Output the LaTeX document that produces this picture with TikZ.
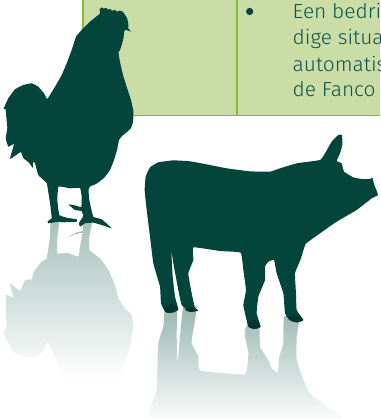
\documentclass[tikz,border=0pt]{standalone}
\usepackage{fontspec}
\setmainfont[FakeStretch=1.03]{Fira Sans Light}
\definecolor{panelfill}{HTML}{CBDDA6}
\definecolor{panelline}{HTML}{8AB82E}
\definecolor{animal}{HTML}{03453B}
\definecolor{hoof}{HTML}{02352D}
\definecolor{inktext}{HTML}{0F5248}
\definecolor{reflA}{HTML}{A5C1BA}
\definecolor{reflB}{HTML}{E0E9E7}
\definecolor{reflC}{HTML}{98B6AF}
\definecolor{reflD}{HTML}{CBDBD6}
\tikzset{
  panelrule/.style={draw=panelline,line width=1.6pt},
  bodytext/.style={anchor=base west,inner sep=0pt,text=inktext,font=\fontsize{20.3}{26}\selectfont},
  silhouette/.style={fill=animal,draw=none},
  hoofshape/.style={fill=hoof,draw=none},
  zoomed/.style={x=0.33333pt,y=-0.33333pt},
}
\begin{document}
\begin{tikzpicture}[x=1pt,y=-1pt]
\useasboundingbox (0,0) rectangle (380,419);
\begin{scope}
\clip (0,0) rectangle (380,419);
% panel
\fill[panelfill] (83,-2) rectangle (382,115.5);
\draw[panelrule] (83,-2) -- (83,115.7) -- (382,115.7);
\draw[panelrule] (237,-2) -- (237,115.7);
\fill[animal] (249.7,11.5) circle (3.6);
\node[bodytext] (t1) at (292.5,19) {Een bedri};
\node[bodytext] (t2) at (292.5,45) {dige situa};
\node[bodytext] (t3) at (292.5,71.5) {automatis};
\node[bodytext] (t4) at (292.5,96.5) {de Fanco};
% rooster reflection
\begin{scope}[yshift=-210pt]
\begin{scope}[zoomed]
\begin{scope}
\clip plot[smooth cycle,tension=.2] coordinates {(152,30)(178,30)(172,80)(172,130)(200,128)(235,140)(240,110)(248,65)(250,30)(275,40)(268,80)(268,120)(300,145)(325,180)(345,225)(355,265)(375,295)(395,315)(400,350)(390,410)(370,470)(355,525)(200,525)(175,460)(143,397)(130,425)(100,443)(70,440)(40,425)(10,370)(20,350)(18,320)(18,255)(40,262)(30,220)(60,243)(75,210)(95,208)(100,188)(105,180)(125,155)(140,145)(150,80)};
\shade[top color=reflA,middle color=reflB,bottom color=white] (0,30) rectangle (410,505);
\end{scope}
\fill[reflA] (205,82) .. controls (220,68) and (235,65) .. (250,63) -- (250,68) .. controls (235,70) and (220,72) .. (205,82) -- cycle;
\end{scope}
\end{scope}
% pig reflection
\begin{scope}[xshift=140pt,yshift=-130pt]
\begin{scope}[zoomed]
\clip plot[smooth cycle,tension=.2] coordinates {(75,530)(110,530)(110,620)(113,700)(120,620)(130,530)(170,530)(160,600)(155,640)(175,680)(180,722)(315,733)(325,670)(315,620)(315,600)(325,580)(358,580)(360,650)(385,690)(395,715)(413,728)(418,680)(430,640)(432,560)(478,560)(470,620)(470,690)(490,750)(510,790)(560,830)(600,870)(40,870)(50,780)(55,640)(70,590)};
\shade[top color=reflC,middle color=reflD,bottom color=white] (0,530) rectangle (720,880);
\end{scope}
\end{scope}
% rooster
\fill[silhouette] plot[smooth cycle,tension=.18] coordinates {
(100,13.5)(99.5,9.5)(101.5,7.5)(104,8.6)(106,7.8)(108,9.6)(110,9)(112,10.7)(115,10)(117,11.6)(120,10.6)(123,12)(125,15)(127,18)(128,22)(128.5,26)(128,28)(131,31.5)(125,29.8)(124,33)(123.5,38)(122,44)(120,50)(118.5,52.5)(120,62)(123,75)(127,88)(131,100)(133.5,112)(133,122)(131,128)(127,132)(122,136)(119,140)(117,150)(114,160)(110,170)(104,178)(96,184)(90,186.5)(88.5,190)(89.3,200)(93.3,216.7)(101.7,219.3)(111.7,228.3)(101.7,225)(93.3,222.7)(85,223.3)(80,226.7)(79,223)(83.3,216)(81.5,211)(75,210)(68.3,204.3)(75,205.5)(81.3,207)(81.7,196.7)(80,188)(70,188.3)(58.5,186.5)(57.3,200)(59.3,215)(66.7,217.7)(76.7,219.3)(76.7,221.7)(63.3,222.3)(58.3,221.7)(48.3,223.3)(47.7,221)(51.7,218.3)(50,203)(47.7,188.3)(46.7,183)(38.3,175)(35,163)(33.3,162)(32.7,168)(29.3,163)(23.3,158)(20.7,152)(10,159)(14,144)(8.3,146.7)(5.7,138.3)(7.3,128)(5.5,109)(3.3,109.3)(8.3,98.3)(15,89.3)(23.3,85)(31.7,83.3)(38.3,86.7)(44,93.3)(47.3,99)(55,86.7)(61.7,75)(66.7,63.3)(71.7,50)(76,36.7)(81.7,30)(90,21.7)};
% pig
\begin{scope}[xshift=140pt,yshift=-130pt]
\begin{scope}[zoomed]
\fill[silhouette] plot[smooth cycle,tension=.2] coordinates {
(14,180)(17,140)(30,112)(55,97)(100,91)(150,94)(200,103)(260,115)(330,124)(390,125)(420,115)(470,100)(540,90)(555,70)(575,35)(595,15)(606,15)(607,45)(600,70)(590,93)(605,100)(612,125)(640,142)(665,147)(690,147)(697,143)(703,165)(714,195)(695,205)(650,240)(590,275)(540,310)(497,342)(483,385)(465,430)(468,490)(470,540)(490,570)(470,577)(448,570)(435,550)(430,490)(410,430)(402,390)(385,395)(375,410)(375,450)(355,500)(350,550)(362,590)(345,597)(325,590)(315,550)(310,525)(318,480)(310,420)(302,368)(240,363)(160,352)(160,390)(145,430)(155,490)(165,535)(175,542)(150,545)(125,525)(115,480)(100,400)(94,362)(98,440)(105,500)(115,540)(90,548)(75,545)(63,520)(60,470)(40,400)(30,320)(20,240)};
\fill[hoofshape] plot[smooth cycle,tension=.5] coordinates {(75,535)(90,520)(112,532)(105,546)(80,548)};
\fill[hoofshape] plot[smooth cycle,tension=.5] coordinates {(135,538)(155,532)(174,541)(150,546)};
\fill[hoofshape] plot[smooth cycle,tension=.5] coordinates {(326,578)(345,571)(361,588)(345,597)(328,592)};
\fill[hoofshape] plot[smooth cycle,tension=.5] coordinates {(446,560)(468,553)(490,570)(470,577)(450,571)};
\end{scope}
\end{scope}
\end{scope}
\end{tikzpicture}
\end{document}
